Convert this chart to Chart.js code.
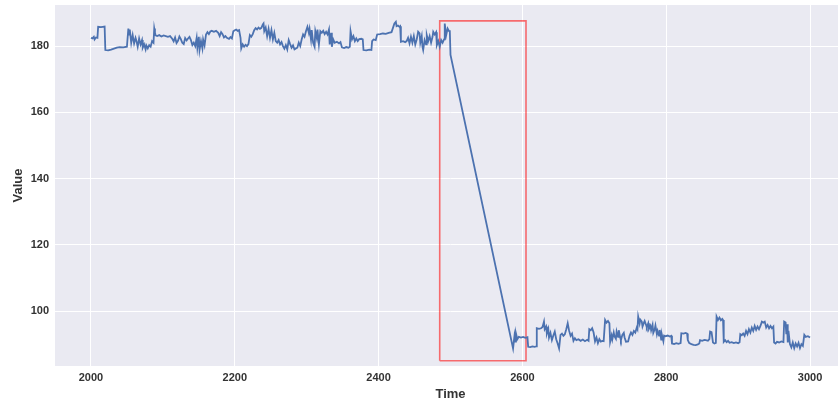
<!DOCTYPE html>
<html>
<head>
<meta charset="utf-8">
<script src="https://cdn.jsdelivr.net/npm/chart.js@4/dist/chart.umd.min.js"></script>
<style>
  html, body { margin: 0; padding: 0; overflow: hidden; background: #ffffff; }
  #wrap { width: 846px; height: 402px; }
</style>
</head>
<body>
<div id="wrap"><canvas id="c" width="846" height="402"></canvas></div>
<script>
// ---- data ----
const time = [
  2000,2002,2004,2005,2007,2009,2010,2014,2019,2020,
  2024,2028,2032,2036,2040,2045,2050,2052,2053,2054,
  2056,2058,2060,2062,2063,2065,2067,2069,2071,2072,
  2074,2076,2077,2079,2081,2083,2085,2087,2088,2089,
  2090,2092,2095,2098,2101,2104,2107,2110,2113,2115,
  2117,2119,2121,2123,2125,2127,2129,2131,2133,2135,
  2137,2139,2141,2143,2145,2147,2148,2150,2151,2153,
  2155,2156,2158,2160,2162,2164,2166,2168,2171,2174,
  2177,2179,2181,2183,2185,2187,2189,2192,2194,2196,
  2198,2200,2202,2204,2206,2208,2209,2211,2213,2215,
  2217,2219,2221,2223,2225,2227,2229,2231,2233,2235,
  2237,2239,2240,2241,2243,2245,2247,2249,2251,2253,
  2255,2257,2259,2261,2263,2265,2267,2269,2271,2273,
  2275,2277,2279,2281,2283,2285,2287,2289,2291,2293,
  2295,2297,2299,2301,2303,2304,2306,2307,2309,2311,
  2312,2314,2315,2317,2319,2321,2323,2325,2327,2329,
  2331,2332,2334,2335,2337,2339,2342,2345,2347,2349,
  2352,2355,2358,2360,2361,2363,2365,2367,2369,2371,
  2373,2376,2378,2379,2383,2387,2390,2391,2393,2396,
  2398,2402,2406,2410,2414,2418,2420,2422,2424,2425,
  2427,2429,2430,2431,2434,2437,2439,2441,2443,2445,
  2447,2449,2451,2453,2455,2457,2458,2460,2461,2462,
  2464,2466,2467,2469,2471,2473,2475,2476,2478,2480,
  2481,2483,2485,2487,2489,2491,2492,2494,2496,2498,
  2499,2500,
  2587,2589,2590,2591,2593,2595,2598,2601,2604,2607,
  2608,2611,2614,2617,2619,2620,2623,2626,2628,2630,
  2631,2633,2634,2636,2637,2639,2641,2643,2645,2647,
  2649,2651,2653,2655,2657,2659,2661,2663,2665,2667,
  2669,2671,2673,2675,2678,2681,2684,2687,2690,2692,
  2693,2695,2697,2699,2701,2703,2705,2707,2709,2711,
  2713,2715,2717,2719,2721,2722,2724,2725,2727,2728,
  2730,2731,2733,2734,2736,2737,2739,2741,2742,2744,
  2747,2749,2751,2753,2755,2757,2759,2760,2761,2763,
  2764,2766,2767,2769,2770,2772,2773,2775,2776,2778,
  2779,2781,2782,2784,2785,2787,2788,2790,2791,2793,
  2794,2796,2797,2799,2802,2805,2807,2808,2811,2814,
  2817,2820,2821,2824,2827,2829,2830,2832,2835,2838,
  2841,2844,2846,2847,2850,2853,2855,2858,2860,2861,
  2863,2865,2867,2869,2870,2872,2874,2876,2878,2879,
  2880,2882,2884,2886,2888,2891,2894,2897,2900,2902,
  2903,2905,2907,2909,2911,2913,2915,2917,2919,2921,
  2923,2925,2927,2929,2931,2933,2935,2937,2939,2941,
  2943,2945,2947,2949,2950,2952,2954,2957,2960,2963,
  2964,2966,2967,2968,2969,2970,2972,2974,2976,2978,
  2980,2982,2984,2986,2988,2990,2992,2994,2997,3000
];
const value = [
  182.5,182.3,182.8,182.0,182.6,182.5,185.8,185.7,185.9,178.8,
  178.7,178.9,179.2,179.5,179.7,179.6,179.8,185.3,183.5,185.0,
  181.0,183.3,180.8,182.5,181.8,179.8,182.3,180.5,181.8,179.5,
  180.5,179.0,180.2,179.3,180.3,179.8,181.5,181.0,185.3,184.0,
  183.2,183.0,183.3,182.9,183.2,183.0,182.8,183.0,182.2,181.4,
  182.6,180.9,181.6,182.9,182.1,181.0,180.6,182.4,181.7,182.3,
  182.8,181.8,180.3,181.0,180.0,182.5,179.5,182.8,178.8,181.5,
  179.3,182.0,180.2,183.5,184.2,183.6,184.4,184.6,184.3,184.6,
  184.0,183.0,184.2,183.6,182.6,183.0,182.5,182.2,182.7,182.3,
  184.5,184.8,185.0,184.6,184.8,182.5,179.3,180.5,179.8,180.4,
  180.0,180.6,183.3,182.8,183.6,184.8,185.4,185.0,185.6,185.2,
  185.5,186.5,186.8,184.5,185.6,183.0,185.2,182.5,184.8,182.0,
  184.0,181.5,181.0,181.8,180.5,181.2,180.0,179.2,180.3,179.0,
  181.8,180.6,179.5,180.2,179.0,179.3,179.5,181.0,180.0,182.0,
  183.5,182.8,184.5,185.8,184.0,185.2,182.0,184.8,181.0,179.8,
  184.5,182.5,185.0,180.5,184.5,184.0,184.6,183.6,184.3,183.5,
  185.0,180.5,184.0,179.8,182.0,181.0,181.3,180.8,181.2,179.6,
  179.4,179.7,179.5,179.8,184.5,182.0,183.0,181.5,182.3,181.5,
  182.1,182.2,182.0,178.8,178.7,178.9,178.8,181.5,182.0,181.8,
  183.5,183.6,183.8,183.7,184.0,184.2,185.5,186.8,187.3,186.0,
  186.2,185.8,186.0,181.3,181.5,181.2,181.5,182.5,180.8,182.8,
  181.0,183.0,180.5,182.0,184.3,183.8,181.0,183.0,179.8,178.8,
  181.8,180.5,183.3,181.5,183.0,181.0,182.8,184.3,183.5,184.2,
  180.3,181.5,179.8,181.8,181.0,182.0,186.8,183.3,185.3,184.5,
  184.8,177.3,
  88.7,92.5,90.8,93.3,91.5,92.2,92.0,92.2,91.9,92.1,
  89.2,89.1,89.3,89.2,89.3,94.8,94.6,94.8,95.2,96.8,
  94.5,95.3,93.2,94.6,92.0,93.4,91.2,92.6,93.8,91.5,
  90.2,88.7,92.8,93.2,92.5,93.0,94.5,96.3,94.0,92.5,
  93.2,91.0,91.8,91.2,91.5,91.0,91.4,90.9,91.3,91.0,
  94.5,94.2,94.8,93.5,90.8,92.0,90.3,91.5,90.8,91.0,
  90.9,97.3,96.5,97.0,96.3,90.7,92.6,91.4,93.5,92.4,
  91.6,93.8,92.2,94.2,92.0,91.2,92.8,93.4,92.1,90.7,
  90.8,92.5,93.5,92.8,94.0,93.5,95.0,94.5,98.3,96.2,
  97.4,96.8,95.3,96.5,97.0,95.8,95.1,96.3,94.6,95.5,
  94.2,95.8,93.4,94.5,95.6,93.0,94.0,92.6,94.3,91.4,
  92.8,90.9,92.6,92.4,92.6,92.3,92.5,90.2,90.0,90.3,
  90.1,90.3,93.3,93.2,93.4,93.2,91.2,90.3,90.0,89.8,
  89.7,89.9,90.2,91.2,91.0,91.3,91.2,91.0,91.5,93.8,
  93.6,90.5,90.2,90.4,98.3,97.3,98.0,97.2,97.6,97.3,
  90.7,91.2,90.6,91.0,90.4,90.6,90.3,90.5,90.3,90.6,
  93.0,92.7,93.2,92.5,94.0,93.0,94.5,93.5,95.0,94.0,
  95.5,94.3,95.3,94.5,95.5,96.8,96.5,96.8,95.0,95.8,
  94.8,95.5,94.8,95.3,90.5,90.2,90.7,90.5,90.8,90.6,
  96.8,96.5,93.0,96.0,90.5,94.0,90.0,89.0,90.5,88.8,
  90.2,89.3,90.4,88.8,90.0,89.5,92.8,92.2,92.4,92.0
];

// highlighted window (red rectangle)
const highlightTime = [2485, 2605];
const highlightValue = [85.0, 187.6];

// axes
const xTicks = [2000, 2200, 2400, 2600, 2800, 3000];
const yTicks = [100, 120, 140, 160, 180];
const xRange = [1950, 3050];
const yRange = [83.4, 192.4];

// ---- build chart ----
const linePoints = time.map((t, i) => ({ x: t, y: value[i] }));
const rectPoints = [
  { x: highlightTime[0], y: highlightValue[0] },
  { x: highlightTime[1], y: highlightValue[0] },
  { x: highlightTime[1], y: highlightValue[1] },
  { x: highlightTime[0], y: highlightValue[1] },
  { x: highlightTime[0], y: highlightValue[0] }
];

const bgPlugin = {
  id: 'plotBg',
  beforeDraw(chart) {
    const { ctx, chartArea: a } = chart;
    ctx.save();
    ctx.fillStyle = '#EAEAF2';
    ctx.fillRect(a.left, a.top, a.right - a.left, a.bottom - a.top);
    ctx.restore();
  }
};

const FONT = "'Liberation Sans', Arial, sans-serif";
const TXT = '#333333';

new Chart(document.getElementById('c'), {
  type: 'scatter',
  data: {
    datasets: [
      {
        data: linePoints,
        showLine: true,
        borderColor: '#4C72B0',
        borderWidth: 1.8,
        pointRadius: 0,
        tension: 0,
        fill: false
      },
      {
        data: rectPoints,
        showLine: true,
        borderColor: 'rgba(255,0,0,0.55)',
        borderWidth: 1.6,
        pointRadius: 0,
        tension: 0,
        fill: false
      }
    ]
  },
  options: {
    responsive: false,
    animation: false,
    devicePixelRatio: 1,
    layout: { padding: { top: 5, right: 0, bottom: 0, left: 0 } },
    plugins: { legend: { display: false }, tooltip: { enabled: false } },
    scales: {
      x: {
        type: 'linear',
        min: xRange[0],
        max: xRange[1],
        afterBuildTicks: s => { s.ticks = xTicks.map(v => ({ value: v })); },
        afterFit: s => { s.height = 36; s.paddingLeft = 0; s.paddingRight = 0; },
        grid: { color: '#ffffff', lineWidth: 1, drawTicks: false },
        border: { display: false },
        ticks: {
          padding: 5,
          color: TXT,
          font: { family: FONT, size: 11, weight: 'bold' },
          callback: v => String(v)
        },
        title: {
          display: true,
          text: 'Time',
          color: TXT,
          font: { family: FONT, size: 13, weight: 'bold' },
          padding: 0
        }
      },
      y: {
        type: 'linear',
        min: yRange[0],
        max: yRange[1],
        afterBuildTicks: s => { s.ticks = yTicks.map(v => ({ value: v })); },
        afterFit: s => { s.width = 55; s.paddingTop = 0; s.paddingBottom = 0; },
        grid: { color: '#ffffff', lineWidth: 1, drawTicks: false },
        border: { display: false },
        ticks: {
          padding: 6,
          color: TXT,
          font: { family: FONT, size: 11, weight: 'bold' },
          callback: v => String(v)
        },
        title: {
          display: true,
          text: 'Value',
          color: TXT,
          font: { family: FONT, size: 13, weight: 'bold' },
          padding: { top: 11, bottom: 0 }
        }
      }
    }
  },
  plugins: [bgPlugin]
});
</script>
</body>
</html>
